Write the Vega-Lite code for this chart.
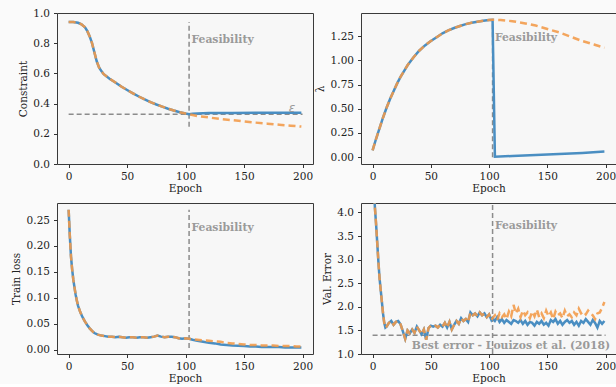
{
"$schema": "https://vega.github.io/schema/vega-lite/v6.json",
"background": "#fafafa",
"padding": {"left": 11, "top": 7, "right": 0, "bottom": 0},
"columns": 2,
"spacing": {"row": 39, "column": 48},
"bounds": "flush",
"config": {
  "font": "DejaVu Serif",
  "view": {"stroke": "#3a3a3a", "strokeWidth": 1, "fill": "#f7f7f7"},
  "axis": {"grid": false, "domain": false, "tickCount": 12, "labelOverlap": false, "labelFlush": false, "labelFont": "DejaVu Serif", "labelFontSize": 10.5, "labelColor": "#222", "titleFont": "DejaVu Serif", "titleFontSize": 10.5, "titleFontWeight": "normal", "titleColor": "#222", "tickColor": "#333", "tickSize": 3.5, "labelPadding": 4, "titlePadding": 4.5},
  "axisX": {"titlePadding": 1.5, "labelPadding": 3.5}
},
"datasets": {
"constraint": [
{"epoch":0,"value":0.94,"run":"A"},{"epoch":4,"value":0.94,"run":"A"},{"epoch":8,"value":0.935,"run":"A"},{"epoch":11,"value":0.925,"run":"A"},{"epoch":14,"value":0.905,"run":"A"},{"epoch":16,"value":0.88,"run":"A"},{"epoch":18,"value":0.845,"run":"A"},{"epoch":20,"value":0.8,"run":"A"},{"epoch":22,"value":0.74,"run":"A"},{"epoch":24,"value":0.68,"run":"A"},{"epoch":26,"value":0.64,"run":"A"},{"epoch":28,"value":0.615,"run":"A"},{"epoch":30,"value":0.595,"run":"A"},{"epoch":35,"value":0.565,"run":"A"},{"epoch":40,"value":0.54,"run":"A"},{"epoch":45,"value":0.513,"run":"A"},{"epoch":50,"value":0.49,"run":"A"},{"epoch":55,"value":0.468,"run":"A"},{"epoch":60,"value":0.447,"run":"A"},{"epoch":65,"value":0.428,"run":"A"},{"epoch":70,"value":0.41,"run":"A"},{"epoch":75,"value":0.394,"run":"A"},{"epoch":80,"value":0.38,"run":"A"},{"epoch":85,"value":0.366,"run":"A"},{"epoch":90,"value":0.354,"run":"A"},{"epoch":95,"value":0.343,"run":"A"},{"epoch":100,"value":0.334,"run":"A"},{"epoch":103,"value":0.33,"run":"A"},
{"epoch":106,"value":0.333,"run":"A"},{"epoch":110,"value":0.335,"run":"A"},{"epoch":120,"value":0.337,"run":"A"},{"epoch":140,"value":0.338,"run":"A"},{"epoch":160,"value":0.339,"run":"A"},{"epoch":180,"value":0.34,"run":"A"},{"epoch":199,"value":0.34,"run":"A"},
{"epoch":0,"value":0.94,"run":"B"},{"epoch":4,"value":0.94,"run":"B"},{"epoch":8,"value":0.935,"run":"B"},{"epoch":11,"value":0.925,"run":"B"},{"epoch":14,"value":0.905,"run":"B"},{"epoch":16,"value":0.88,"run":"B"},{"epoch":18,"value":0.845,"run":"B"},{"epoch":20,"value":0.8,"run":"B"},{"epoch":22,"value":0.74,"run":"B"},{"epoch":24,"value":0.68,"run":"B"},{"epoch":26,"value":0.64,"run":"B"},{"epoch":28,"value":0.615,"run":"B"},{"epoch":30,"value":0.595,"run":"B"},{"epoch":35,"value":0.565,"run":"B"},{"epoch":40,"value":0.54,"run":"B"},{"epoch":45,"value":0.513,"run":"B"},{"epoch":50,"value":0.49,"run":"B"},{"epoch":55,"value":0.468,"run":"B"},{"epoch":60,"value":0.447,"run":"B"},{"epoch":65,"value":0.428,"run":"B"},{"epoch":70,"value":0.41,"run":"B"},{"epoch":75,"value":0.394,"run":"B"},{"epoch":80,"value":0.38,"run":"B"},{"epoch":85,"value":0.366,"run":"B"},{"epoch":90,"value":0.354,"run":"B"},{"epoch":95,"value":0.343,"run":"B"},{"epoch":100,"value":0.334,"run":"B"},{"epoch":103,"value":0.33,"run":"B"},
{"epoch":106,"value":0.325,"run":"B"},{"epoch":110,"value":0.318,"run":"B"},{"epoch":120,"value":0.308,"run":"B"},{"epoch":130,"value":0.298,"run":"B"},{"epoch":140,"value":0.29,"run":"B"},{"epoch":150,"value":0.282,"run":"B"},{"epoch":160,"value":0.274,"run":"B"},{"epoch":170,"value":0.267,"run":"B"},{"epoch":180,"value":0.26,"run":"B"},{"epoch":190,"value":0.254,"run":"B"},{"epoch":199,"value":0.248,"run":"B"}
],
"lambda": [
{"epoch":0,"value":0.07,"run":"A"},{"epoch":3,"value":0.19,"run":"A"},{"epoch":6,"value":0.3,"run":"A"},{"epoch":9,"value":0.41,"run":"A"},{"epoch":12,"value":0.51,"run":"A"},{"epoch":15,"value":0.6,"run":"A"},{"epoch":18,"value":0.68,"run":"A"},{"epoch":21,"value":0.76,"run":"A"},{"epoch":24,"value":0.83,"run":"A"},{"epoch":27,"value":0.89,"run":"A"},{"epoch":30,"value":0.95,"run":"A"},{"epoch":35,"value":1.03,"run":"A"},{"epoch":40,"value":1.1,"run":"A"},{"epoch":45,"value":1.155,"run":"A"},{"epoch":50,"value":1.2,"run":"A"},{"epoch":55,"value":1.24,"run":"A"},{"epoch":60,"value":1.28,"run":"A"},{"epoch":65,"value":1.31,"run":"A"},{"epoch":70,"value":1.335,"run":"A"},{"epoch":75,"value":1.355,"run":"A"},{"epoch":80,"value":1.375,"run":"A"},{"epoch":85,"value":1.39,"run":"A"},{"epoch":90,"value":1.4,"run":"A"},{"epoch":95,"value":1.41,"run":"A"},{"epoch":100,"value":1.418,"run":"A"},{"epoch":103,"value":1.42,"run":"A"},
{"epoch":105,"value":0.005,"run":"A"},{"epoch":120,"value":0.012,"run":"A"},{"epoch":140,"value":0.022,"run":"A"},{"epoch":160,"value":0.032,"run":"A"},{"epoch":180,"value":0.043,"run":"A"},{"epoch":199,"value":0.057,"run":"A"},
{"epoch":0,"value":0.07,"run":"B"},{"epoch":3,"value":0.19,"run":"B"},{"epoch":6,"value":0.3,"run":"B"},{"epoch":9,"value":0.41,"run":"B"},{"epoch":12,"value":0.51,"run":"B"},{"epoch":15,"value":0.6,"run":"B"},{"epoch":18,"value":0.68,"run":"B"},{"epoch":21,"value":0.76,"run":"B"},{"epoch":24,"value":0.83,"run":"B"},{"epoch":27,"value":0.89,"run":"B"},{"epoch":30,"value":0.95,"run":"B"},{"epoch":35,"value":1.03,"run":"B"},{"epoch":40,"value":1.1,"run":"B"},{"epoch":45,"value":1.155,"run":"B"},{"epoch":50,"value":1.2,"run":"B"},{"epoch":55,"value":1.24,"run":"B"},{"epoch":60,"value":1.28,"run":"B"},{"epoch":65,"value":1.31,"run":"B"},{"epoch":70,"value":1.335,"run":"B"},{"epoch":75,"value":1.355,"run":"B"},{"epoch":80,"value":1.375,"run":"B"},{"epoch":85,"value":1.39,"run":"B"},{"epoch":90,"value":1.4,"run":"B"},{"epoch":95,"value":1.41,"run":"B"},{"epoch":100,"value":1.418,"run":"B"},{"epoch":103,"value":1.42,"run":"B"},
{"epoch":110,"value":1.418,"run":"B"},{"epoch":120,"value":1.405,"run":"B"},{"epoch":130,"value":1.385,"run":"B"},{"epoch":140,"value":1.36,"run":"B"},{"epoch":150,"value":1.325,"run":"B"},{"epoch":160,"value":1.29,"run":"B"},{"epoch":170,"value":1.245,"run":"B"},{"epoch":180,"value":1.2,"run":"B"},{"epoch":190,"value":1.165,"run":"B"},{"epoch":199,"value":1.13,"run":"B"}
],
"trainloss": [
{"epoch":0,"value":0.27,"run":"A"},{"epoch":1,"value":0.22,"run":"A"},{"epoch":2,"value":0.18,"run":"A"},{"epoch":3,"value":0.155,"run":"A"},{"epoch":4,"value":0.135,"run":"A"},{"epoch":5,"value":0.12,"run":"A"},{"epoch":6,"value":0.106,"run":"A"},{"epoch":7,"value":0.095,"run":"A"},{"epoch":8,"value":0.085,"run":"A"},{"epoch":10,"value":0.072,"run":"A"},{"epoch":12,"value":0.062,"run":"A"},{"epoch":14,"value":0.054,"run":"A"},{"epoch":16,"value":0.047,"run":"A"},{"epoch":18,"value":0.041,"run":"A"},{"epoch":20,"value":0.036,"run":"A"},{"epoch":22,"value":0.032,"run":"A"},{"epoch":25,"value":0.029,"run":"A"},{"epoch":28,"value":0.027,"run":"A"},{"epoch":31,"value":0.026,"run":"A"},{"epoch":34,"value":0.025,"run":"A"},{"epoch":37,"value":0.025,"run":"A"},{"epoch":40,"value":0.024,"run":"A"},{"epoch":43,"value":0.025,"run":"A"},{"epoch":46,"value":0.024,"run":"A"},{"epoch":49,"value":0.023,"run":"A"},{"epoch":52,"value":0.024,"run":"A"},{"epoch":55,"value":0.024,"run":"A"},{"epoch":58,"value":0.023,"run":"A"},{"epoch":61,"value":0.024,"run":"A"},{"epoch":64,"value":0.024,"run":"A"},{"epoch":67,"value":0.023,"run":"A"},{"epoch":70,"value":0.024,"run":"A"},{"epoch":73,"value":0.025,"run":"A"},{"epoch":76,"value":0.027,"run":"A"},{"epoch":79,"value":0.025,"run":"A"},{"epoch":82,"value":0.024,"run":"A"},{"epoch":85,"value":0.025,"run":"A"},{"epoch":88,"value":0.025,"run":"A"},{"epoch":91,"value":0.024,"run":"A"},{"epoch":94,"value":0.022,"run":"A"},{"epoch":97,"value":0.021,"run":"A"},{"epoch":100,"value":0.022,"run":"A"},{"epoch":103,"value":0.021,"run":"A"},
{"epoch":106,"value":0.019,"run":"A"},{"epoch":110,"value":0.017,"run":"A"},{"epoch":115,"value":0.015,"run":"A"},{"epoch":120,"value":0.013,"run":"A"},{"epoch":125,"value":0.012,"run":"A"},{"epoch":130,"value":0.01,"run":"A"},{"epoch":135,"value":0.009,"run":"A"},{"epoch":140,"value":0.008,"run":"A"},{"epoch":145,"value":0.0075,"run":"A"},{"epoch":150,"value":0.007,"run":"A"},{"epoch":155,"value":0.006,"run":"A"},{"epoch":160,"value":0.006,"run":"A"},{"epoch":165,"value":0.005,"run":"A"},{"epoch":170,"value":0.005,"run":"A"},{"epoch":175,"value":0.005,"run":"A"},{"epoch":180,"value":0.005,"run":"A"},{"epoch":185,"value":0.004,"run":"A"},{"epoch":190,"value":0.004,"run":"A"},{"epoch":195,"value":0.004,"run":"A"},{"epoch":199,"value":0.004,"run":"A"},
{"epoch":0,"value":0.27,"run":"B"},{"epoch":1,"value":0.22,"run":"B"},{"epoch":2,"value":0.18,"run":"B"},{"epoch":3,"value":0.155,"run":"B"},{"epoch":4,"value":0.135,"run":"B"},{"epoch":5,"value":0.12,"run":"B"},{"epoch":6,"value":0.106,"run":"B"},{"epoch":7,"value":0.095,"run":"B"},{"epoch":8,"value":0.085,"run":"B"},{"epoch":10,"value":0.072,"run":"B"},{"epoch":12,"value":0.062,"run":"B"},{"epoch":14,"value":0.054,"run":"B"},{"epoch":16,"value":0.047,"run":"B"},{"epoch":18,"value":0.041,"run":"B"},{"epoch":20,"value":0.036,"run":"B"},{"epoch":22,"value":0.032,"run":"B"},{"epoch":25,"value":0.029,"run":"B"},{"epoch":28,"value":0.027,"run":"B"},{"epoch":31,"value":0.026,"run":"B"},{"epoch":34,"value":0.025,"run":"B"},{"epoch":37,"value":0.025,"run":"B"},{"epoch":40,"value":0.024,"run":"B"},{"epoch":43,"value":0.025,"run":"B"},{"epoch":46,"value":0.024,"run":"B"},{"epoch":49,"value":0.023,"run":"B"},{"epoch":52,"value":0.024,"run":"B"},{"epoch":55,"value":0.024,"run":"B"},{"epoch":58,"value":0.023,"run":"B"},{"epoch":61,"value":0.024,"run":"B"},{"epoch":64,"value":0.024,"run":"B"},{"epoch":67,"value":0.023,"run":"B"},{"epoch":70,"value":0.024,"run":"B"},{"epoch":73,"value":0.025,"run":"B"},{"epoch":76,"value":0.027,"run":"B"},{"epoch":79,"value":0.025,"run":"B"},{"epoch":82,"value":0.024,"run":"B"},{"epoch":85,"value":0.025,"run":"B"},{"epoch":88,"value":0.025,"run":"B"},{"epoch":91,"value":0.024,"run":"B"},{"epoch":94,"value":0.022,"run":"B"},{"epoch":97,"value":0.021,"run":"B"},{"epoch":100,"value":0.022,"run":"B"},{"epoch":103,"value":0.021,"run":"B"},
{"epoch":106,"value":0.02,"run":"B"},{"epoch":110,"value":0.019,"run":"B"},{"epoch":115,"value":0.018,"run":"B"},{"epoch":120,"value":0.017,"run":"B"},{"epoch":125,"value":0.016,"run":"B"},{"epoch":130,"value":0.015,"run":"B"},{"epoch":135,"value":0.013,"run":"B"},{"epoch":140,"value":0.012,"run":"B"},{"epoch":145,"value":0.011,"run":"B"},{"epoch":150,"value":0.01,"run":"B"},{"epoch":155,"value":0.009,"run":"B"},{"epoch":160,"value":0.009,"run":"B"},{"epoch":165,"value":0.008,"run":"B"},{"epoch":170,"value":0.008,"run":"B"},{"epoch":175,"value":0.008,"run":"B"},{"epoch":180,"value":0.007,"run":"B"},{"epoch":185,"value":0.007,"run":"B"},{"epoch":190,"value":0.007,"run":"B"},{"epoch":195,"value":0.006,"run":"B"},{"epoch":199,"value":0.006,"run":"B"}
],
"valerror": [
{"epoch":0,"value":5.5,"run":"A"},{"epoch":1,"value":4.6,"run":"A"},{"epoch":2,"value":4.1,"run":"A"},{"epoch":3,"value":3.75,"run":"A"},{"epoch":4,"value":3.35,"run":"A"},{"epoch":5,"value":2.95,"run":"A"},{"epoch":6,"value":2.6,"run":"A"},{"epoch":7,"value":2.35,"run":"A"},{"epoch":8,"value":2.1,"run":"A"},{"epoch":9,"value":1.85,"run":"A"},{"epoch":10,"value":1.66,"run":"A"},{"epoch":11,"value":1.56,"run":"A"},{"epoch":12,"value":1.58,"run":"A"},{"epoch":14,"value":1.66,"run":"A"},{"epoch":16,"value":1.7,"run":"A"},{"epoch":18,"value":1.62,"run":"A"},{"epoch":20,"value":1.68,"run":"A"},{"epoch":22,"value":1.7,"run":"A"},{"epoch":24,"value":1.63,"run":"A"},{"epoch":26,"value":1.48,"run":"A"},{"epoch":28,"value":1.32,"run":"A"},{"epoch":30,"value":1.5,"run":"A"},{"epoch":32,"value":1.44,"run":"A"},{"epoch":34,"value":1.52,"run":"A"},{"epoch":36,"value":1.45,"run":"A"},{"epoch":38,"value":1.58,"run":"A"},{"epoch":40,"value":1.5,"run":"A"},{"epoch":42,"value":1.42,"run":"A"},{"epoch":44,"value":1.52,"run":"A"},{"epoch":46,"value":1.3,"run":"A"},{"epoch":48,"value":1.55,"run":"A"},{"epoch":50,"value":1.6,"run":"A"},{"epoch":52,"value":1.58,"run":"A"},{"epoch":54,"value":1.6,"run":"A"},{"epoch":56,"value":1.56,"run":"A"},{"epoch":58,"value":1.62,"run":"A"},{"epoch":60,"value":1.58,"run":"A"},{"epoch":62,"value":1.66,"run":"A"},{"epoch":64,"value":1.56,"run":"A"},{"epoch":66,"value":1.68,"run":"A"},{"epoch":68,"value":1.52,"run":"A"},{"epoch":70,"value":1.62,"run":"A"},{"epoch":72,"value":1.7,"run":"A"},{"epoch":74,"value":1.64,"run":"A"},{"epoch":76,"value":1.76,"run":"A"},{"epoch":78,"value":1.7,"run":"A"},{"epoch":80,"value":1.74,"run":"A"},{"epoch":82,"value":1.68,"run":"A"},{"epoch":84,"value":1.88,"run":"A"},{"epoch":86,"value":1.82,"run":"A"},{"epoch":88,"value":1.86,"run":"A"},{"epoch":90,"value":1.8,"run":"A"},{"epoch":92,"value":1.88,"run":"A"},{"epoch":94,"value":1.82,"run":"A"},{"epoch":96,"value":1.86,"run":"A"},{"epoch":98,"value":1.78,"run":"A"},{"epoch":100,"value":1.84,"run":"A"},{"epoch":102,"value":1.72,"run":"A"},{"epoch":103,"value":1.76,"run":"A"},
{"epoch":105,"value":1.7,"run":"A"},{"epoch":107,"value":1.78,"run":"A"},{"epoch":109,"value":1.68,"run":"A"},{"epoch":111,"value":1.74,"run":"A"},{"epoch":113,"value":1.66,"run":"A"},{"epoch":115,"value":1.72,"run":"A"},{"epoch":117,"value":1.68,"run":"A"},{"epoch":119,"value":1.64,"run":"A"},{"epoch":121,"value":1.72,"run":"A"},{"epoch":123,"value":1.7,"run":"A"},{"epoch":125,"value":1.66,"run":"A"},{"epoch":127,"value":1.72,"run":"A"},{"epoch":129,"value":1.64,"run":"A"},{"epoch":131,"value":1.7,"run":"A"},{"epoch":133,"value":1.62,"run":"A"},{"epoch":135,"value":1.68,"run":"A"},{"epoch":137,"value":1.66,"run":"A"},{"epoch":139,"value":1.6,"run":"A"},{"epoch":141,"value":1.68,"run":"A"},{"epoch":143,"value":1.64,"run":"A"},{"epoch":145,"value":1.7,"run":"A"},{"epoch":147,"value":1.62,"run":"A"},{"epoch":149,"value":1.66,"run":"A"},{"epoch":151,"value":1.6,"run":"A"},{"epoch":153,"value":1.72,"run":"A"},{"epoch":155,"value":1.68,"run":"A"},{"epoch":157,"value":1.74,"run":"A"},{"epoch":159,"value":1.64,"run":"A"},{"epoch":161,"value":1.7,"run":"A"},{"epoch":163,"value":1.62,"run":"A"},{"epoch":165,"value":1.68,"run":"A"},{"epoch":167,"value":1.72,"run":"A"},{"epoch":169,"value":1.66,"run":"A"},{"epoch":171,"value":1.7,"run":"A"},{"epoch":173,"value":1.62,"run":"A"},{"epoch":175,"value":1.68,"run":"A"},{"epoch":177,"value":1.6,"run":"A"},{"epoch":179,"value":1.7,"run":"A"},{"epoch":181,"value":1.66,"run":"A"},{"epoch":183,"value":1.74,"run":"A"},{"epoch":185,"value":1.68,"run":"A"},{"epoch":187,"value":1.62,"run":"A"},{"epoch":189,"value":1.72,"run":"A"},{"epoch":191,"value":1.66,"run":"A"},{"epoch":193,"value":1.56,"run":"A"},{"epoch":195,"value":1.7,"run":"A"},{"epoch":197,"value":1.64,"run":"A"},{"epoch":199,"value":1.7,"run":"A"},
{"epoch":0,"value":5.5,"run":"B"},{"epoch":1,"value":4.6,"run":"B"},{"epoch":2,"value":4.1,"run":"B"},{"epoch":3,"value":3.75,"run":"B"},{"epoch":4,"value":3.35,"run":"B"},{"epoch":5,"value":2.95,"run":"B"},{"epoch":6,"value":2.6,"run":"B"},{"epoch":7,"value":2.35,"run":"B"},{"epoch":8,"value":2.1,"run":"B"},{"epoch":9,"value":1.85,"run":"B"},{"epoch":10,"value":1.66,"run":"B"},{"epoch":11,"value":1.56,"run":"B"},{"epoch":12,"value":1.58,"run":"B"},{"epoch":14,"value":1.66,"run":"B"},{"epoch":16,"value":1.7,"run":"B"},{"epoch":18,"value":1.62,"run":"B"},{"epoch":20,"value":1.68,"run":"B"},{"epoch":22,"value":1.7,"run":"B"},{"epoch":24,"value":1.63,"run":"B"},{"epoch":26,"value":1.48,"run":"B"},{"epoch":28,"value":1.32,"run":"B"},{"epoch":30,"value":1.5,"run":"B"},{"epoch":32,"value":1.44,"run":"B"},{"epoch":34,"value":1.52,"run":"B"},{"epoch":36,"value":1.45,"run":"B"},{"epoch":38,"value":1.58,"run":"B"},{"epoch":40,"value":1.5,"run":"B"},{"epoch":42,"value":1.42,"run":"B"},{"epoch":44,"value":1.52,"run":"B"},{"epoch":46,"value":1.3,"run":"B"},{"epoch":48,"value":1.55,"run":"B"},{"epoch":50,"value":1.6,"run":"B"},{"epoch":52,"value":1.58,"run":"B"},{"epoch":54,"value":1.6,"run":"B"},{"epoch":56,"value":1.56,"run":"B"},{"epoch":58,"value":1.62,"run":"B"},{"epoch":60,"value":1.58,"run":"B"},{"epoch":62,"value":1.66,"run":"B"},{"epoch":64,"value":1.56,"run":"B"},{"epoch":66,"value":1.68,"run":"B"},{"epoch":68,"value":1.52,"run":"B"},{"epoch":70,"value":1.62,"run":"B"},{"epoch":72,"value":1.7,"run":"B"},{"epoch":74,"value":1.64,"run":"B"},{"epoch":76,"value":1.76,"run":"B"},{"epoch":78,"value":1.7,"run":"B"},{"epoch":80,"value":1.74,"run":"B"},{"epoch":82,"value":1.68,"run":"B"},{"epoch":84,"value":1.88,"run":"B"},{"epoch":86,"value":1.82,"run":"B"},{"epoch":88,"value":1.86,"run":"B"},{"epoch":90,"value":1.8,"run":"B"},{"epoch":92,"value":1.88,"run":"B"},{"epoch":94,"value":1.82,"run":"B"},{"epoch":96,"value":1.86,"run":"B"},{"epoch":98,"value":1.78,"run":"B"},{"epoch":100,"value":1.84,"run":"B"},{"epoch":102,"value":1.72,"run":"B"},{"epoch":103,"value":1.76,"run":"B"},
{"epoch":105,"value":1.82,"run":"B"},{"epoch":107,"value":1.72,"run":"B"},{"epoch":109,"value":1.86,"run":"B"},{"epoch":111,"value":1.78,"run":"B"},{"epoch":113,"value":1.84,"run":"B"},{"epoch":115,"value":1.74,"run":"B"},{"epoch":117,"value":1.9,"run":"B"},{"epoch":119,"value":1.8,"run":"B"},{"epoch":121,"value":2.04,"run":"B"},{"epoch":123,"value":1.86,"run":"B"},{"epoch":125,"value":1.96,"run":"B"},{"epoch":127,"value":1.78,"run":"B"},{"epoch":129,"value":1.92,"run":"B"},{"epoch":131,"value":1.82,"run":"B"},{"epoch":133,"value":1.88,"run":"B"},{"epoch":135,"value":1.76,"run":"B"},{"epoch":137,"value":1.9,"run":"B"},{"epoch":139,"value":1.8,"run":"B"},{"epoch":141,"value":1.94,"run":"B"},{"epoch":143,"value":1.78,"run":"B"},{"epoch":145,"value":1.86,"run":"B"},{"epoch":147,"value":1.76,"run":"B"},{"epoch":149,"value":1.92,"run":"B"},{"epoch":151,"value":1.8,"run":"B"},{"epoch":153,"value":1.88,"run":"B"},{"epoch":155,"value":1.74,"run":"B"},{"epoch":157,"value":1.9,"run":"B"},{"epoch":159,"value":1.82,"run":"B"},{"epoch":161,"value":1.86,"run":"B"},{"epoch":163,"value":1.76,"run":"B"},{"epoch":165,"value":1.92,"run":"B"},{"epoch":167,"value":1.8,"run":"B"},{"epoch":169,"value":1.84,"run":"B"},{"epoch":171,"value":1.78,"run":"B"},{"epoch":173,"value":1.88,"run":"B"},{"epoch":175,"value":1.82,"run":"B"},{"epoch":177,"value":1.96,"run":"B"},{"epoch":179,"value":1.86,"run":"B"},{"epoch":181,"value":1.9,"run":"B"},{"epoch":183,"value":1.84,"run":"B"},{"epoch":185,"value":1.92,"run":"B"},{"epoch":187,"value":1.86,"run":"B"},{"epoch":189,"value":1.82,"run":"B"},{"epoch":191,"value":1.74,"run":"B"},{"epoch":193,"value":1.86,"run":"B"},{"epoch":195,"value":1.88,"run":"B"},{"epoch":197,"value":1.98,"run":"B"},{"epoch":199,"value":2.1,"run":"B"}
]
},
"concat": [
{
 "width": 256, "height": 151,
 "layer": [
  {"data": {"values": [{"epoch": 0, "epoch2": 200, "value": 0.33}]}, "mark": {"type": "rule", "color": "#8c8c8c", "strokeDash": [5, 3], "strokeWidth": 1.5},
   "encoding": {"x": {"field": "epoch", "type": "quantitative", "title": "Epoch", "scale": {"domain": [-9.95, 208.95], "nice": false, "zero": false}, "axis": {"values": [0, 50, 100, 150, 200]}}, "x2": {"field": "epoch2"}, "y": {"field": "value", "type": "quantitative", "title": "Constraint", "scale": {"domain": [0, 1], "nice": false, "zero": false}, "axis": {"values": [0, 0.2, 0.4, 0.6, 0.8, 1.0], "format": ".1f"}}}},
  {"data": {"values": [{"epoch": 103, "value": 0.247, "value2": 0.94}]}, "mark": {"type": "rule", "color": "#8c8c8c", "strokeDash": [5, 3], "strokeWidth": 1.5},
   "encoding": {"x": {"field": "epoch", "type": "quantitative", "title": "Epoch"}, "y": {"field": "value", "type": "quantitative", "title": "Constraint"}, "y2": {"field": "value2"}}},
  {"data": {"name": "constraint"}, "transform": [{"filter": "datum.run === 'A'"}], "mark": {"type": "line", "color": "#4a8ec2", "strokeWidth": 2.5},
   "encoding": {"x": {"field": "epoch", "type": "quantitative", "title": "Epoch"}, "y": {"field": "value", "type": "quantitative", "title": "Constraint"}}},
  {"data": {"name": "constraint"}, "transform": [{"filter": "datum.run === 'B'"}], "mark": {"type": "line", "color": "#f29a48", "strokeWidth": 2.5, "strokeDash": [7, 4], "opacity": 0.88},
   "encoding": {"x": {"field": "epoch", "type": "quantitative", "title": "Epoch"}, "y": {"field": "value", "type": "quantitative", "title": "Constraint"}}},
  {"data": {"values": [{"epoch": 105, "value": 0.82, "label": "Feasibility"}]}, "mark": {"type": "text", "align": "left", "baseline": "middle", "font": "DejaVu Serif", "fontWeight": "bold", "fontSize": 10.8, "color": "#9a9a9a"},
   "encoding": {"x": {"field": "epoch", "type": "quantitative", "title": "Epoch"}, "y": {"field": "value", "type": "quantitative", "title": "Constraint"}, "text": {"field": "label"}}},
  {"data": {"values": [{"epoch": 191, "value": 0.37, "label": "ε"}]}, "mark": {"type": "text", "align": "center", "baseline": "middle", "font": "DejaVu Sans", "fontStyle": "italic", "fontSize": 12, "color": "#9a9a9a"},
   "encoding": {"x": {"field": "epoch", "type": "quantitative", "title": "Epoch"}, "y": {"field": "value", "type": "quantitative", "title": "Constraint"}, "text": {"field": "label"}}}
 ]
},
{
 "width": 255, "height": 151,
 "layer": [
  {"data": {"values": [{"epoch": 103, "value": 0, "value2": 1.42}]}, "mark": {"type": "rule", "color": "#8c8c8c", "strokeDash": [5, 3], "strokeWidth": 1.5},
   "encoding": {"x": {"field": "epoch", "type": "quantitative", "title": "Epoch", "scale": {"domain": [-9.95, 208.95], "nice": false, "zero": false}, "axis": {"values": [0, 50, 100, 150, 200]}}, "y": {"field": "value", "type": "quantitative", "title": "λ", "scale": {"domain": [-0.071, 1.49], "nice": false, "zero": false}, "axis": {"values": [0, 0.25, 0.5, 0.75, 1.0, 1.25], "format": ".2f"}}, "y2": {"field": "value2"}}},
  {"data": {"name": "lambda"}, "transform": [{"filter": "datum.run === 'A'"}], "mark": {"type": "line", "color": "#4a8ec2", "strokeWidth": 2.5},
   "encoding": {"x": {"field": "epoch", "type": "quantitative", "title": "Epoch"}, "y": {"field": "value", "type": "quantitative", "title": "λ"}}},
  {"data": {"name": "lambda"}, "transform": [{"filter": "datum.run === 'B'"}], "mark": {"type": "line", "color": "#f29a48", "strokeWidth": 2.5, "strokeDash": [7, 4], "opacity": 0.88},
   "encoding": {"x": {"field": "epoch", "type": "quantitative", "title": "Epoch"}, "y": {"field": "value", "type": "quantitative", "title": "λ"}}},
  {"data": {"values": [{"epoch": 105, "value": 1.23, "label": "Feasibility"}]}, "mark": {"type": "text", "align": "left", "baseline": "middle", "font": "DejaVu Serif", "fontWeight": "bold", "fontSize": 10.8, "color": "#9a9a9a"},
   "encoding": {"x": {"field": "epoch", "type": "quantitative", "title": "Epoch"}, "y": {"field": "value", "type": "quantitative", "title": "λ"}, "text": {"field": "label"}}}
 ]
},
{
 "width": 256, "height": 151,
 "layer": [
  {"data": {"values": [{"epoch": 103, "value": 0.003, "value2": 0.27}]}, "mark": {"type": "rule", "color": "#8c8c8c", "strokeDash": [5, 3], "strokeWidth": 1.5},
   "encoding": {"x": {"field": "epoch", "type": "quantitative", "title": "Epoch", "scale": {"domain": [-9.95, 208.95], "nice": false, "zero": false}, "axis": {"values": [0, 50, 100, 150, 200]}}, "y": {"field": "value", "type": "quantitative", "title": "Train loss", "scale": {"domain": [-0.0085, 0.283], "nice": false, "zero": false}, "axis": {"values": [0, 0.05, 0.1, 0.15, 0.2, 0.25], "format": ".2f"}}, "y2": {"field": "value2"}}},
  {"data": {"name": "trainloss"}, "transform": [{"filter": "datum.run === 'A'"}], "mark": {"type": "line", "color": "#4a8ec2", "strokeWidth": 2.5},
   "encoding": {"x": {"field": "epoch", "type": "quantitative", "title": "Epoch"}, "y": {"field": "value", "type": "quantitative", "title": "Train loss"}}},
  {"data": {"name": "trainloss"}, "transform": [{"filter": "datum.run === 'B'"}], "mark": {"type": "line", "color": "#f29a48", "strokeWidth": 2.5, "strokeDash": [7, 4], "opacity": 0.88},
   "encoding": {"x": {"field": "epoch", "type": "quantitative", "title": "Epoch"}, "y": {"field": "value", "type": "quantitative", "title": "Train loss"}}},
  {"data": {"values": [{"epoch": 105, "value": 0.235, "label": "Feasibility"}]}, "mark": {"type": "text", "align": "left", "baseline": "middle", "font": "DejaVu Serif", "fontWeight": "bold", "fontSize": 10.8, "color": "#9a9a9a"},
   "encoding": {"x": {"field": "epoch", "type": "quantitative", "title": "Epoch"}, "y": {"field": "value", "type": "quantitative", "title": "Train loss"}, "text": {"field": "label"}}}
 ]
},
{
 "width": 255, "height": 151,
 "layer": [
  {"data": {"values": [{"epoch": 0, "epoch2": 200, "value": 1.4}]}, "mark": {"type": "rule", "color": "#8c8c8c", "strokeDash": [5, 3], "strokeWidth": 1.5},
   "encoding": {"x": {"field": "epoch", "type": "quantitative", "title": "Epoch", "scale": {"domain": [-9.95, 208.95], "nice": false, "zero": false}, "axis": {"values": [0, 50, 100, 150, 200]}}, "x2": {"field": "epoch2"}, "y": {"field": "value", "type": "quantitative", "title": "Val. Error", "scale": {"domain": [1, 4.2], "nice": false, "zero": false}, "axis": {"values": [1, 1.5, 2, 2.5, 3, 3.5, 4], "format": ".1f"}}}},
  {"data": {"values": [{"epoch": 103, "value": 1.0, "value2": 4.2}]}, "mark": {"type": "rule", "color": "#8c8c8c", "strokeDash": [5, 3], "strokeWidth": 1.5},
   "encoding": {"x": {"field": "epoch", "type": "quantitative", "title": "Epoch"}, "y": {"field": "value", "type": "quantitative", "title": "Val. Error"}, "y2": {"field": "value2"}}},
  {"data": {"name": "valerror"}, "transform": [{"filter": "datum.run === 'A'"}], "mark": {"type": "line", "color": "#4a8ec2", "strokeWidth": 2.5, "clip": true},
   "encoding": {"x": {"field": "epoch", "type": "quantitative", "title": "Epoch"}, "y": {"field": "value", "type": "quantitative", "title": "Val. Error"}}},
  {"data": {"name": "valerror"}, "transform": [{"filter": "datum.run === 'B'"}], "mark": {"type": "line", "color": "#f29a48", "strokeWidth": 2.5, "strokeDash": [7, 4], "opacity": 0.88, "clip": true},
   "encoding": {"x": {"field": "epoch", "type": "quantitative", "title": "Epoch"}, "y": {"field": "value", "type": "quantitative", "title": "Val. Error"}}},
  {"data": {"values": [{"epoch": 105, "value": 3.71, "label": "Feasibility"}]}, "mark": {"type": "text", "align": "left", "baseline": "middle", "font": "DejaVu Serif", "fontWeight": "bold", "fontSize": 10.8, "color": "#9a9a9a"},
   "encoding": {"x": {"field": "epoch", "type": "quantitative", "title": "Epoch"}, "y": {"field": "value", "type": "quantitative", "title": "Val. Error"}, "text": {"field": "label"}}},
  {"data": {"values": [{"epoch": 204, "value": 1.18, "label": "Best error - Louizos et al. (2018)"}]}, "mark": {"type": "text", "align": "right", "baseline": "middle", "font": "DejaVu Serif", "fontWeight": "bold", "fontSize": 10.8, "color": "#9a9a9a"},
   "encoding": {"x": {"field": "epoch", "type": "quantitative", "title": "Epoch"}, "y": {"field": "value", "type": "quantitative", "title": "Val. Error"}, "text": {"field": "label"}}}
 ]
}
]
}
